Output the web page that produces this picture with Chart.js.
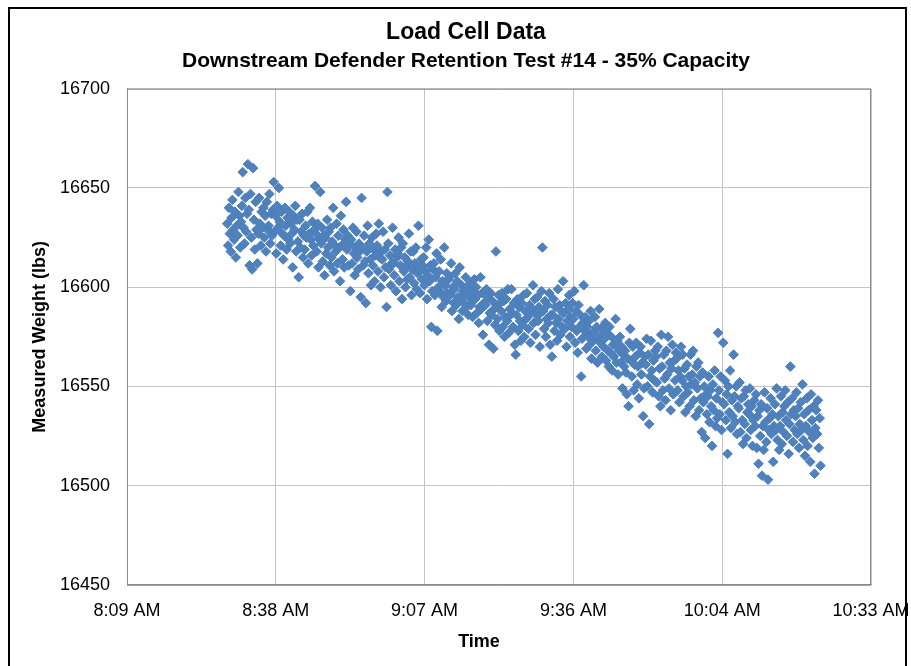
<!DOCTYPE html>
<html>
<head>
<meta charset="utf-8">
<script src="https://cdn.jsdelivr.net/npm/chart.js@4"></script>
<style>
  html, body { margin: 0; padding: 0; background: #fff; }
</style>
</head>
<body>
<canvas id="area-grafico" width="911" height="666"></canvas>
<script>

// ejes (el eje x va en minutos desde medianoche)
const tickMinutos = [489.6, 518.4, 547.2, 576, 604.8, 633.6];
const tickHoras = ['8:09 AM', '8:38 AM', '9:07 AM', '9:36 AM', '10:04 AM', '10:33 AM'];
const tickPesos = [16450, 16500, 16550, 16600, 16650, 16700];

// lecturas de la celda de carga, una fila por minuto desde las 8:29
const horaInicio = '8:29';
const lecturas = [
    [16632, 16621, 16640, 16627, 16618, 16635], // 8:29
    [16644, 16629, 16624, 16638, 16615, 16631],
    [16626, 16648, 16636, 16620, 16633, 16641],
    [16658, 16630, 16622, 16645, 16628, 16637],
    [16662, 16639, 16611, 16647, 16625, 16609],
    [16660, 16634, 16619, 16643, 16629, 16612],
    [16627, 16645, 16632, 16621, 16638, 16630],
    [16640, 16625, 16636, 16618, 16643, 16629],
    [16631, 16647, 16622, 16637, 16626, 16639],
    [16653, 16628, 16636, 16617, 16641, 16630], // 8:38
    [16650, 16633, 16621, 16638, 16627, 16614],
    [16626, 16640, 16631, 16619, 16635, 16624],
    [16638, 16622, 16632, 16627, 16610, 16636],
    [16629, 16641, 16618, 16634, 16623, 16605],
    [16634, 16620, 16628, 16637, 16615, 16626],
    [16619, 16631, 16625, 16638, 16612, 16627],
    [16640, 16624, 16616, 16633, 16621, 16629],
    [16651, 16627, 16618, 16632, 16610, 16624],
    [16648, 16622, 16630, 16613, 16626, 16606],
    [16625, 16617, 16634, 16620, 16628, 16611], // 8:48
    [16630, 16615, 16623, 16640, 16608, 16621],
    [16618, 16632, 16612, 16626, 16620, 16603],
    [16636, 16621, 16614, 16629, 16610, 16624],
    [16643, 16619, 16626, 16611, 16622, 16598],
    [16624, 16612, 16630, 16617, 16606, 16620],
    [16628, 16615, 16609, 16622, 16618, 16595],
    [16645, 16620, 16611, 16626, 16613, 16592],
    [16618, 16631, 16607, 16622, 16614, 16601],
    [16625, 16611, 16619, 16603, 16616, 16627],
    [16621, 16608, 16632, 16615, 16600, 16618], // 8:58
    [16614, 16628, 16605, 16619, 16610, 16590],
    [16648, 16622, 16609, 16616, 16601, 16612],
    [16630, 16612, 16606, 16619, 16598, 16615],
    [16617, 16625, 16603, 16611, 16620, 16594],
    [16622, 16608, 16615, 16600, 16611, 16604],
    [16613, 16627, 16605, 16618, 16596, 16609],
    [16618, 16602, 16612, 16620, 16599, 16607],
    [16631, 16609, 16597, 16614, 16604, 16611],
    [16615, 16601, 16608, 16620, 16594, 16606], // 9:07
    [16624, 16603, 16611, 16580, 16598, 16609],
    [16612, 16596, 16605, 16617, 16578, 16600],
    [16608, 16598, 16614, 16590, 16603, 16595],
    [16620, 16601, 16593, 16607, 16597, 16604],
    [16605, 16596, 16612, 16588, 16600, 16592],
    [16599, 16607, 16591, 16603, 16595, 16584],
    [16610, 16594, 16601, 16588, 16598, 16592],
    [16597, 16605, 16590, 16599, 16586, 16595],
    [16602, 16591, 16598, 16585, 16594, 16604],
    [16594, 16600, 16587, 16596, 16582, 16590], // 9:17
    [16605, 16589, 16597, 16576, 16592, 16598],
    [16591, 16599, 16583, 16595, 16571, 16587],
    [16597, 16586, 16593, 16569, 16589, 16581],
    [16618, 16590, 16584, 16596, 16578, 16592],
    [16588, 16597, 16580, 16593, 16575, 16585],
    [16594, 16583, 16599, 16577, 16589, 16586],
    [16599, 16587, 16580, 16592, 16571, 16566],
    [16586, 16594, 16578, 16590, 16583, 16573],
    [16592, 16581, 16596, 16575, 16588, 16584],
    [16597, 16585, 16579, 16591, 16572, 16588], // 9:27
    [16589, 16601, 16582, 16594, 16576, 16586],
    [16595, 16583, 16590, 16570, 16587, 16598],
    [16620, 16588, 16579, 16593, 16575, 16584],
    [16591, 16582, 16597, 16571, 16586, 16565],
    [16586, 16594, 16578, 16590, 16582, 16573],
    [16599, 16584, 16591, 16576, 16588, 16580],
    [16603, 16587, 16579, 16592, 16570, 16583],
    [16589, 16596, 16575, 16585, 16580, 16592],
    [16584, 16598, 16572, 16588, 16578, 16567], // 9:36
    [16591, 16580, 16586, 16555, 16574, 16582],
    [16601, 16578, 16585, 16569, 16580, 16575],
    [16583, 16571, 16588, 16564, 16577, 16573],
    [16577, 16585, 16568, 16580, 16562, 16574],
    [16589, 16572, 16579, 16565, 16576, 16570],
    [16574, 16582, 16563, 16577, 16568, 16560],
    [16580, 16567, 16575, 16558, 16571, 16565],
    [16571, 16584, 16562, 16573, 16556, 16568],
    [16575, 16562, 16570, 16549, 16566, 16560],
    [16568, 16557, 16546, 16564, 16540, 16572], // 9:46
    [16579, 16563, 16555, 16570, 16548, 16561],
    [16565, 16572, 16551, 16560, 16544, 16567],
    [16570, 16556, 16562, 16535, 16549, 16565],
    [16561, 16574, 16550, 16566, 16531, 16555],
    [16573, 16558, 16547, 16563, 16553, 16568],
    [16565, 16552, 16570, 16545, 16559, 16540],
    [16576, 16560, 16548, 16566, 16554, 16543],
    [16568, 16556, 16575, 16549, 16562, 16538],
    [16559, 16571, 16546, 16563, 16553, 16567],
    [16564, 16548, 16558, 16542, 16555, 16570], // 9:56
    [16553, 16566, 16545, 16559, 16537, 16550],
    [16561, 16547, 16555, 16540, 16566, 16551],
    [16556, 16568, 16543, 16552, 16535, 16560],
    [16549, 16562, 16538, 16555, 16544, 16527],
    [16557, 16542, 16550, 16524, 16546, 16536],
    [16545, 16555, 16532, 16548, 16540, 16520],
    [16551, 16538, 16558, 16530, 16544, 16534],
    [16577, 16548, 16536, 16555, 16528, 16542], // 10:04
    [16572, 16541, 16553, 16533, 16546, 16516],
    [16550, 16537, 16558, 16529, 16543, 16535],
    [16566, 16545, 16532, 16550, 16526, 16540],
    [16539, 16552, 16527, 16544, 16533, 16521],
    [16545, 16531, 16548, 16524, 16537, 16541],
    [16536, 16549, 16528, 16540, 16520, 16533],
    [16543, 16530, 16546, 16519, 16535, 16511],
    [16538, 16525, 16541, 16505, 16530, 16518],
    [16547, 16532, 16522, 16539, 16503, 16528],
    [16534, 16544, 16526, 16536, 16512, 16530], // 10:14
    [16541, 16528, 16549, 16523, 16535, 16518],
    [16530, 16545, 16521, 16537, 16527, 16540],
    [16548, 16533, 16525, 16542, 16516, 16531],
    [16560, 16536, 16544, 16522, 16538, 16528],
    [16535, 16547, 16526, 16539, 16519, 16531],
    [16542, 16528, 16551, 16523, 16536, 16515],
    [16530, 16544, 16520, 16538, 16527, 16512],
    [16546, 16533, 16524, 16540, 16506, 16529],
    [16538, 16526, 16543, 16519, 16534, 16510]  // 10:23
];

function aMinutos(hora) {
    const partes = hora.split(':');
    return parseInt(partes[0]) * 60 + parseInt(partes[1]);
}

// pasa las filas a puntos {x, y}
function armarPuntos() {
    const inicio = aMinutos(horaInicio);
    const puntos = [];
    lecturas.forEach((fila, i) => {
        fila.forEach((peso, j) => {
            puntos.push({ x: inicio + i + j / fila.length, y: peso });
        });
    });
    return puntos;
}

// fondo blanco, borde del area de grafico y marco negro
const marco = {
    id: 'marco',
    beforeDraw(chart) {
        const ctx = chart.ctx;
        ctx.save();
        ctx.fillStyle = '#ffffff';
        ctx.fillRect(0, 0, chart.width, chart.height);
        ctx.restore();
    },
    afterDraw(chart) {
        const ctx = chart.ctx;
        const a = chart.chartArea;
        ctx.save();
        ctx.strokeStyle = '#8c8c8c';
        ctx.lineWidth = 1;
        ctx.strokeRect(a.left + 0.5, a.top + 0.5, a.right - a.left - 1, a.bottom - a.top);
        ctx.strokeStyle = '#000000';
        ctx.lineWidth = 2;
        ctx.strokeRect(9, 8, 897, 700);
        ctx.restore();
    }
};

Chart.defaults.font.family = 'Liberation Sans, Arial, sans-serif';
Chart.defaults.color = '#000';

const ctx = document.getElementById('area-grafico');

const myChart = new Chart(ctx, {
    type: 'scatter',
    data: {
        datasets: [{
            label: 'Measured Weight',
            data: armarPuntos(),
            pointStyle: 'rectRot',
            pointRadius: 4.8,
            pointBorderWidth: 1,
            backgroundColor: '#4f81bd',
            borderColor: '#4a7ebb'
        }]
    },
    options: {
        responsive: false,
        animation: false,
        layout: { padding: { top: 19, left: 47, right: 26, bottom: 13 } },
        plugins: {
            legend: { display: false },
            tooltip: { enabled: false },
            title: {
                display: true,
                text: 'Load Cell Data',
                font: { size: 23, weight: 'bold' },
                padding: { top: 0, bottom: 2 }
            },
            subtitle: {
                display: true,
                text: 'Downstream Defender Retention Test #14 - 35% Capacity',
                font: { size: 21, weight: 'bold' },
                color: '#000',
                padding: { top: 0, bottom: 15 }
            }
        },
        scales: {
            x: {
                type: 'linear',
                min: tickMinutos[0],
                max: tickMinutos[tickMinutos.length - 1],
                afterBuildTicks: (escala) => {
                    escala.ticks = tickMinutos.map(v => ({ value: v }));
                },
                afterFit: (escala) => {
                    // deja el borde derecho del grafico donde va en la imagen
                    escala.paddingRight = 40;
                },
                ticks: {
                    callback: (valor, i) => tickHoras[i],
                    font: { size: 18 },
                    padding: 15,
                    maxRotation: 0,
                    autoSkip: false
                },
                grid: { color: '#c4c4c4', drawTicks: false },
                border: { color: '#8c8c8c' },
                title: {
                    display: true,
                    // los espacios corren el titulo un poco a la izquierda, como en el original
                    text: 'Time        ',
                    font: { size: 18, weight: 'bold' },
                    padding: { top: -5, bottom: 0 }
                }
            },
            y: {
                min: tickPesos[0],
                max: tickPesos[tickPesos.length - 1],
                afterBuildTicks: (escala) => {
                    escala.ticks = tickPesos.map(v => ({ value: v }));
                },
                afterFit: (escala) => { escala.width = 80; },
                ticks: {
                    callback: (valor) => String(valor),
                    font: { size: 18 },
                    padding: 17
                },
                grid: { color: '#c4c4c4', drawTicks: false },
                border: { color: '#8c8c8c' },
                title: {
                    display: true,
                    text: 'Measured Weight (lbs)',
                    font: { size: 18, weight: 'bold' },
                    padding: { top: -18, bottom: 0 }
                }
            }
        }
    },
    plugins: [marco]
});
</script>
</body>
</html>
